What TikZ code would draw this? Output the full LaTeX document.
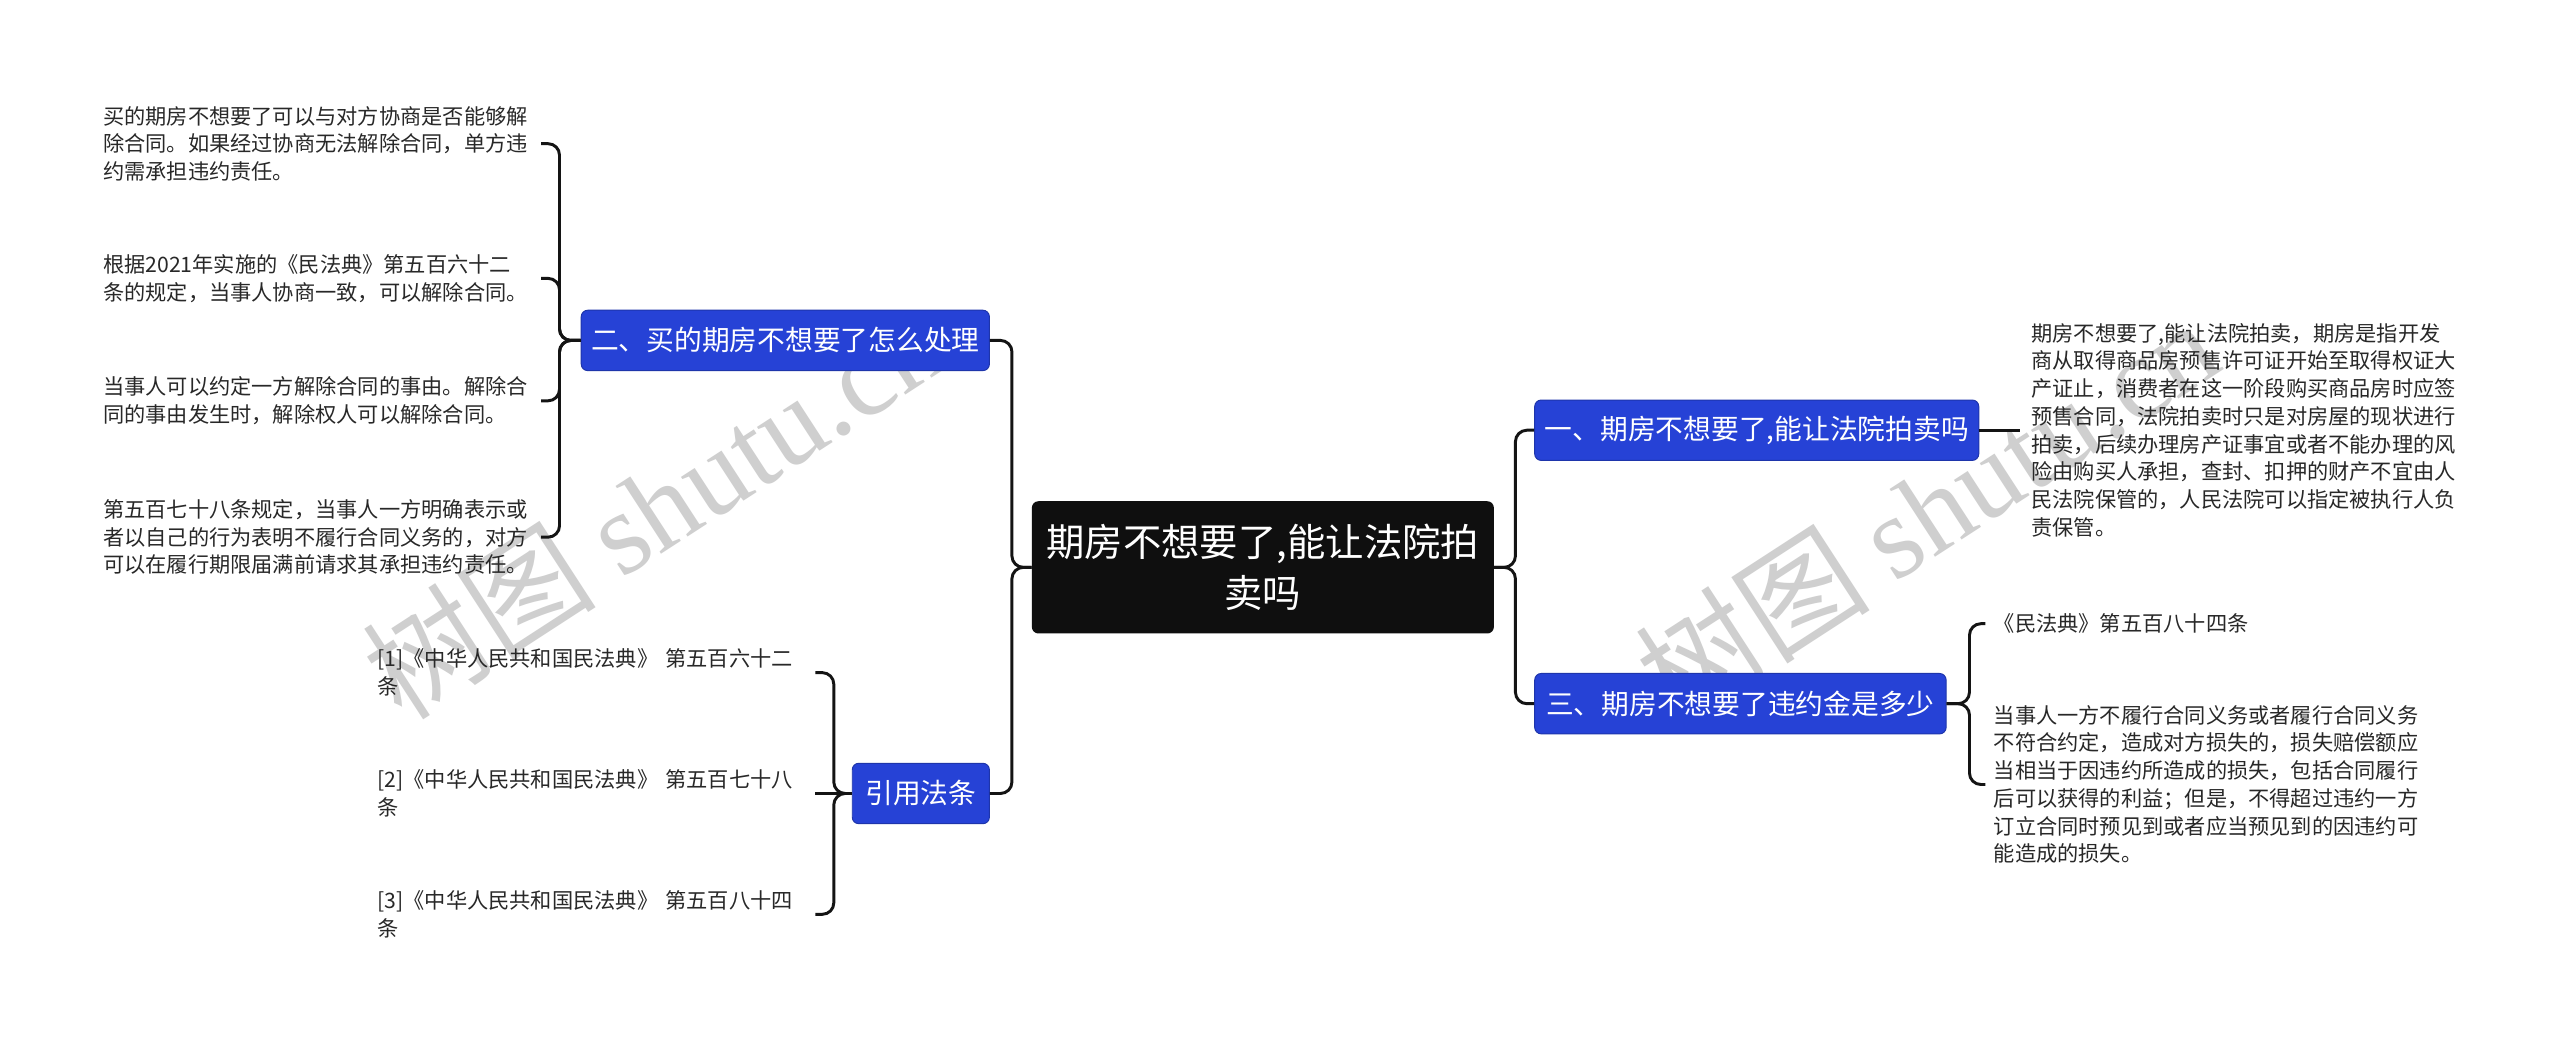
\documentclass[tikz,border=0pt]{standalone}
\usepackage{fontspec}
\setmainfont{Noto Sans CJK SC}
\newfontfamily\wmserif{Liberation Serif}
\definecolor{nodeblue}{RGB}{38,66,214}
\definecolor{leafgray}{RGB}{40,40,40}
\begin{document}
\begin{tikzpicture}[x=1pt,y=-1pt,
  conn/.style={draw=black!92, line width=1.8pt, rounded corners=7pt},
  central/.style={fill=black!94, text=white, rounded corners=4pt, minimum width=283pt, minimum height=81pt, inner sep=0pt, align=center, font=\fontsize{23.5}{31}\selectfont},
  topic/.style={fill=nodeblue, draw=nodeblue!80!black, line width=0.6pt, text=white, rounded corners=4pt, minimum height=37pt, inner sep=0pt, font=\fontsize{17}{20}\selectfont},
  leaf/.style={text=leafgray, align=left, inner sep=0pt, anchor=west, text width=262pt, font=\fontsize{13}{17}\selectfont},
  wm/.style={text=black!19, rotate=33, inner sep=0pt, font=\fontsize{72}{74}\selectfont}
]
\useasboundingbox (0,0) rectangle (1568,641);
\fill[white] (0,0) rectangle (1568,641);

% watermarks (behind everything)
\node[wm] (wm1) at (400,310) {树图 {\wmserif shutu.cn}};
\node[wm] (wm2) at (1180,312) {树图 {\wmserif shutu.cn}};

% central
\node[central] (c) at (773.5,347.5) {期房不想要了,能让法院拍\\卖吗};

% topics
\node[topic, minimum width=250pt] (b2) at (481,208.5) {二、买的期房不想要了怎么处理};
\node[topic, minimum width=84pt] (bref) at (564,486) {引用法条};
\node[topic, minimum width=272pt] (b1) at (1076,263.5) {一、期房不想要了,能让法院拍卖吗};
\node[topic, minimum width=252pt] (b3) at (1066,431) {三、期房不想要了违约金是多少};

% leaves of b2
\node[leaf] (l1) at (63,88) {买的期房不想要了可以与对方协商是否能够解\\除合同。如果经过协商无法解除合同，单方违\\约需承担违约责任。};
\node[leaf] (l2) at (63,170.5) {根据2021年实施的《民法典》第五百六十二\\条的规定，当事人协商一致，可以解除合同。};
\node[leaf] (l3) at (63,245.5) {当事人可以约定一方解除合同的事由。解除合\\同的事由发生时，解除权人可以解除合同。};
\node[leaf] (l4) at (63,329) {第五百七十八条规定，当事人一方明确表示或\\者以自己的行为表明不履行合同义务的，对方\\可以在履行期限届满前请求其承担违约责任。};

% references
\node[leaf] (f1) at (231,412) {[1]《中华人民共和国民法典》 第五百六十二\\条};
\node[leaf] (f2) at (231,486) {[2]《中华人民共和国民法典》 第五百七十八\\条};
\node[leaf] (f3) at (231,560) {[3]《中华人民共和国民法典》 第五百八十四\\条};

% right leaves
\node[leaf] (r1) at (1244,263.5) {期房不想要了,能让法院拍卖，期房是指开发\\商从取得商品房预售许可证开始至取得权证大\\产证止，消费者在这一阶段购买商品房时应签\\预售合同，法院拍卖时只是对房屋的现状进行\\拍卖，后续办理房产证事宜或者不能办理的风\\险由购买人承担，查封、扣押的财产不宜由人\\民法院保管的，人民法院可以指定被执行人负\\责保管。};
\node[leaf] (r2a) at (1221,382) {《民法典》第五百八十四条};
\node[leaf] (r2b) at (1221,480.5) {当事人一方不履行合同义务或者履行合同义务\\不符合约定，造成对方损失的，损失赔偿额应\\当相当于因违约所造成的损失，包括合同履行\\后可以获得的利益；但是，不得超过违约一方\\订立合同时预见到或者应当预见到的因违约可\\能造成的损失。};

% connectors from central
\draw[conn] (c.west) -- ++(-12,0) |- (b2.east);
\draw[conn] (c.west) -- ++(-12,0) |- (bref.east);
\draw[conn] (c.east) -- ++(13,0) |- (b1.west);
\draw[conn] (c.east) -- ++(13,0) |- (b3.west);

% b2 bracket
\draw[conn] (b2.west) -- ++(-13,0) |- ([xshift=6pt]l1.east);
\draw[conn] (b2.west) -- ++(-13,0) |- ([xshift=6pt]l2.east);
\draw[conn] (b2.west) -- ++(-13,0) |- ([xshift=6pt]l3.east);
\draw[conn] (b2.west) -- ++(-13,0) |- ([xshift=6pt]l4.east);

% ref bracket
\draw[conn] (bref.west) -- ++(-11,0) |- ([xshift=6pt]f1.east);
\draw[conn] (bref.west) -- ([xshift=6pt]f2.east);
\draw[conn] (bref.west) -- ++(-11,0) |- ([xshift=6pt]f3.east);

% right
\draw[conn] (b1.east) -- ([xshift=-7pt]r1.west);
\draw[conn] (b3.east) -- ++(14,0) |- ([xshift=-5pt]r2a.west);
\draw[conn] (b3.east) -- ++(14,0) |- ([xshift=-5pt]r2b.west);
\end{tikzpicture}
\end{document}
